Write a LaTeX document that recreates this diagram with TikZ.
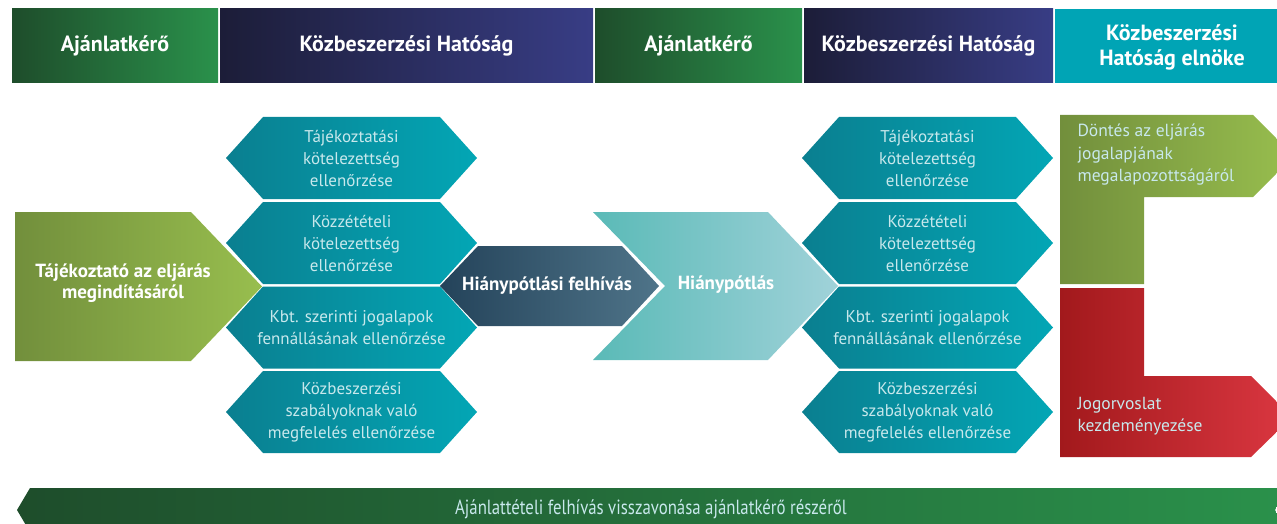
\documentclass[tikz,border=0pt]{standalone}
\usepackage{fontspec}
\setmainfont{PT Sans}
\newfontfamily\condfont[FakeStretch=0.82]{PT Sans}
\usepackage{xcolor}
\usepackage{tikz}
\usetikzlibrary{positioning}
\definecolor{headgreenL}{HTML}{1E4D2B}
\definecolor{headgreenR}{HTML}{2A914B}
\definecolor{navyL}{HTML}{1C1D38}
\definecolor{navyR}{HTML}{383D85}
\definecolor{presteal}{HTML}{00A4B5}
\definecolor{limeL}{HTML}{728F3C}
\definecolor{limeR}{HTML}{98BE4E}
\definecolor{hexL}{HTML}{0A7F90}
\definecolor{hexR}{HTML}{03A6B5}
\definecolor{slateL}{HTML}{24435A}
\definecolor{slateR}{HTML}{4F7489}
\definecolor{aquaL}{HTML}{5ABAB7}
\definecolor{aquaR}{HTML}{A0D2D9}
\definecolor{redL}{HTML}{A2191C}
\definecolor{redR}{HTML}{DB3741}
\definecolor{hextext}{HTML}{C8E8EC}

\begin{document}
\begin{tikzpicture}[
  x=1pt, y=-1pt,
  headtext/.style={text=white, font=\fontsize{22}{25}\selectfont\bfseries, align=center},
  hextext/.style={text=hextext, font=\fontsize{17}{22}\selectfont, align=center},
  boldtext/.style={text=white, font=\fontsize{19}{21}\selectfont\bfseries, align=center},
  sidetext/.style={text=hextext, font=\fontsize{17.5}{22.5}\selectfont, align=left, anchor=west},
  greenfill/.style={left color=headgreenL, right color=headgreenR},
  navyfill/.style={left color=navyL, right color=navyR},
  hexfill/.style={left color=hexL, right color=hexR}
]
\useasboundingbox (0,0) rectangle (1277,524);
\clip (0,0) rectangle (1277,524);

% header row
\shade[greenfill] (12,9) rectangle (218,83);
\shade[navyfill] (220,9) rectangle (593,83);
\shade[greenfill] (595,9) rectangle (802,83);
\shade[navyfill] (804,9) rectangle (1053,83);
\fill[presteal] (1055,9) rectangle (1290,83);
\node[headtext] (h1) at (115,46) {Ajánlatkérő};
\node[headtext] (h2) at (406.5,46) {Közbeszerzési Hatóság};
\node[headtext] (h3) at (698.5,46) {Ajánlatkérő};
\node[headtext] (h4) at (928.5,46) {Közbeszerzési Hatóság};
\node[headtext] (h5) at (1172,47) {Közbeszerzési\\Hatóság elnöke};

% starting arrow
\shade[left color=limeL, right color=limeR]
  (15,212) -- (191,212) -- (262,286.5) -- (191,361) -- (15,361) -- cycle;
\node[boldtext] (start) at (123,283) {Tájékoztató az eljárás\\megindításáról};

% checks, two columns
\foreach \cx/\side in {351.5/L, 927.5/R}
  \foreach \cy/\txt [count=\i] in {158/{Tájékoztatási\\kötelezettség\\ellenőrzése},
      243/{Közzétételi\\kötelezettség\\ellenőrzése},
      327.5/{Kbt. szerinti jogalapok\\fennállásának ellenőrzése},
      412/{Közbeszerzési\\szabályoknak való\\megfelelés ellenőrzése}} {
    \shade[hexfill] (\cx-125.5,\cy) -- (\cx-88.5,\cy-41) -- (\cx+88.5,\cy-41)
      -- (\cx+125.5,\cy) -- (\cx+88.5,\cy+41) -- (\cx-88.5,\cy+41) -- cycle;
    \node[hextext] (check\side\i) at (\cx,\cy) {\txt};
  }

% request and response
\shade[left color=slateL, right color=slateR]
  (440,286) -- (478,246) -- (622,246) -- (659,286) -- (622,326) -- (478,326) -- cycle;
\node[boldtext] (request) at (547,286) {Hiánypótlási felhívás};
\shade[left color=aquaL, right color=aquaR]
  (593,212) -- (768,212) -- (838,286) -- (768,360) -- (593,360) -- (665,286) -- cycle;
\node[boldtext] (reply) at (726,285) {Hiánypótlás};

% outcomes
\shade[left color=limeL, right color=limeR]
  (1060,115) -- (1253,115) -- (1294,156) -- (1253,197) -- (1144,197)
  -- (1144,284) -- (1060,284) -- cycle;
\node[sidetext] (decision) at (1074,155) {Döntés az eljárás\\jogalapjának\\megalapozottságáról};
\shade[left color=redL, right color=redR]
  (1060,288) -- (1144,288) -- (1144,376) -- (1251,376) -- (1292,417)
  -- (1251,457) -- (1060,457) -- cycle;
\node[sidetext] (remedy) at (1074,416) {Jogorvoslat\\kezdeményezése};

% withdrawal bar
\shade[greenfill] (30,488) -- (1287,488) -- (1275,510) -- (1287,532)
  -- (30,532) -- (17,510) -- cycle;
\node[text=hextext, font=\condfont\fontsize{20.5}{22}\selectfont] (withdraw) at (651,509)
  {Ajánlattételi felhívás visszavonása ajánlatkérő részéről};
\end{tikzpicture}
\end{document}
